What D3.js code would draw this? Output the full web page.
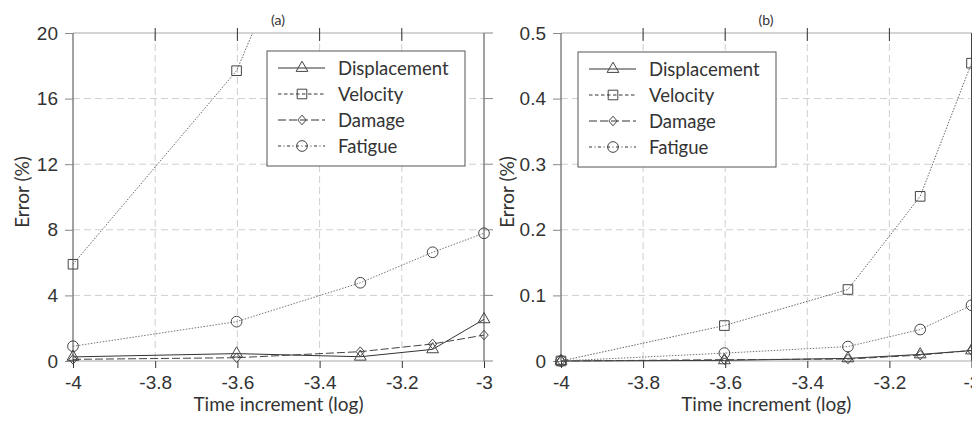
<!DOCTYPE html>
<html>
<head>
<meta charset="utf-8">
<script src="https://cdn.jsdelivr.net/npm/d3@7"></script>
<style>
  body { margin: 0; background: #fff; }
  svg { display: block; font-family: Lato, "Open Sans", sans-serif; }
  .tick-label { font-size: 19px; fill: #333; }
  .axis-label { font-size: 19px; fill: #333; }
  .legend-text { font-size: 18.5px; fill: #333; }
  .title { font-size: 14px; fill: #333; }
</style>
</head>
<body>
<svg width="972" height="421"></svg>
<script>
// time increments (log10 of 1e-4, 2.5e-4, 5e-4, 7.5e-4, 1e-3)
const timeLog = [-4, -3.602, -3.301, -3.125, -3];
const xTicks = [-4, -3.8, -3.6, -3.4, -3.2, -3];
const xTickLabels = ['-4', '-3.8', '-3.6', '-3.4', '-3.2', '-3'];

// panel (a)
const dispA = [0.25, 0.45, 0.26, 0.71, 2.54];
const veloA = [5.9, 17.7, 35.5, 60, 90];
const damA = [0.1, 0.2, 0.57, 1.04, 1.58];
const fatA = [0.9, 2.4, 4.77, 6.63, 7.79];
const yTicksA = [0, 4, 8, 12, 16, 20];
const yLabelsA = ['0', '4', '8', '12', '16', '20'];

// panel (b)
const dispB = [0, 0.001, 0.004, 0.01, 0.016];
const veloB = [0, 0.054, 0.109, 0.251, 0.454];
const damB = [0, 0.002, 0.003, 0.009, 0.016];
const fatB = [0, 0.012, 0.022, 0.048, 0.085];
const yTicksB = [0, 0.1, 0.2, 0.3, 0.4, 0.5];
const yLabelsB = ['0', '0.1', '0.2', '0.3', '0.4', '0.5'];

const seriesNames = ['Displacement', 'Velocity', 'Damage', 'Fatigue'];

const svg = d3.select('svg');

// line and marker style per series
const styles = {
  Displacement: { dash: null, legendDash: null, stroke: '#333', width: 1, marker: 'triangle' },
  Velocity: { dash: '1.5,1.5', legendDash: '3.5,2.5', stroke: '#555', width: 0.9, marker: 'square' },
  Damage: { dash: '8,3', legendDash: '8,3', stroke: '#444', width: 1, marker: 'diamond' },
  Fatigue: { dash: '1.5,1.5', legendDash: '3,2.5,1,2.5', stroke: '#666', width: 0.9, marker: 'circle' }
};

const markerPath = type => {
  if (type === 'triangle') return d3.symbol(d3.symbolTriangle, 60)();
  if (type === 'square') return 'M-4.8,-4.8H4.8V4.8H-4.8Z';
  if (type === 'diamond') return 'M0,-4.8L4.2,0L0,4.8L-4.2,0Z';
  return d3.symbol(d3.symbolCircle, 90)();
};

const drawMarker = (sel, type, x, y) => {
  sel.append('path')
    .attr('d', markerPath(type))
    .attr('transform', `translate(${x},${y})`)
    .attr('fill', 'none')
    .attr('stroke', '#444')
    .attr('stroke-width', 1);
};

const drawPanel = (cfg) => {
  const { left, right, top, bottom } = cfg;
  const g = svg.append('g');

  const xScale = d3.scaleLinear().domain([-4, -3]).range([left, right]);
  const yScale = d3.scaleLinear().domain(cfg.yDomain).range([bottom, top]);

  // grid
  g.append('g').selectAll('line').data(xTicks.slice(1, -1)).enter().append('line')
    .attr('x1', d => xScale(d)).attr('x2', d => xScale(d))
    .attr('y1', top).attr('y2', bottom)
    .attr('stroke', '#cfcfcf').attr('stroke-dasharray', '7,4');
  g.append('g').selectAll('line').data(cfg.yTicks.slice(1, -1)).enter().append('line')
    .attr('x1', left).attr('x2', right)
    .attr('y1', d => yScale(d)).attr('y2', d => yScale(d))
    .attr('stroke', '#cfcfcf').attr('stroke-dasharray', '7,4');

  // frame
  g.append('line').attr('x1', left).attr('x2', right).attr('y1', top).attr('y2', top)
    .attr('stroke', '#aaa');
  g.append('line').attr('x1', left).attr('x2', right).attr('y1', bottom).attr('y2', bottom)
    .attr('stroke', '#aaa');
  g.append('line').attr('x1', left).attr('x2', left).attr('y1', top).attr('y2', bottom)
    .attr('stroke', '#444');
  g.append('line').attr('x1', right).attr('x2', right).attr('y1', top).attr('y2', bottom)
    .attr('stroke', '#444');

  // ticks
  const xAxisB = d3.axisBottom(xScale).tickValues(xTicks).tickSize(7)
    .tickFormat((d, i) => xTickLabels[i]).tickPadding(8);
  const xg = g.append('g').attr('transform', `translate(0,${bottom})`).call(xAxisB);
  xg.select('.domain').remove();
  xg.selectAll('.tick line').attr('stroke', '#333');
  xg.selectAll('.tick text').attr('class', 'tick-label').attr('font-size', null)
    .attr('font-family', null);

  g.append('g').selectAll('line').data(xTicks.slice(1, -1)).enter().append('line')
    .attr('x1', d => xScale(d)).attr('x2', d => xScale(d))
    .attr('y1', top - 5).attr('y2', top + 8).attr('stroke', '#333');

  const yAxisL = d3.axisLeft(yScale).tickValues(cfg.yTicks).tickSize(8)
    .tickFormat((d, i) => cfg.yLabels[i]).tickPadding(7);
  const yg = g.append('g').attr('transform', `translate(${left},0)`).call(yAxisL);
  yg.select('.domain').remove();
  yg.selectAll('.tick line').attr('stroke', '#888');
  yg.selectAll('.tick text').attr('class', 'tick-label').attr('font-size', null)
    .attr('font-family', null);

  g.append('g').selectAll('line').data(cfg.yTicks).enter().append('line')
    .attr('x1', right).attr('x2', right + 9)
    .attr('y1', d => yScale(d)).attr('y2', d => yScale(d))
    .attr('stroke', '#888');

  // clip for lines above the top
  const clipId = 'clip-' + cfg.id;
  g.append('clipPath').attr('id', clipId).append('rect')
    .attr('x', left - 10).attr('y', top)
    .attr('width', right - left + 20).attr('height', bottom - top + 10);

  const plot = g.append('g').attr('clip-path', `url(#${clipId})`);
  const line = d3.line().x(d => xScale(d[0])).y(d => yScale(d[1]));

  seriesNames.forEach((name, si) => {
    const st = styles[name];
    const pts = timeLog.map((t, i) => [t, cfg.series[si][i]]);
    plot.append('path')
      .attr('d', line(pts))
      .attr('fill', 'none')
      .attr('stroke', st.stroke)
      .attr('stroke-width', st.width)
      .attr('stroke-dasharray', st.dash);
    const mg = plot.append('g');
    pts.forEach(p => drawMarker(mg, st.marker, xScale(p[0]), yScale(p[1])));
  });

  // legend
  const lg = g.append('g').attr('transform', `translate(${cfg.legend.x},${cfg.legend.y})`);
  lg.append('rect').attr('width', 198).attr('height', 115)
    .attr('fill', '#fff').attr('stroke', '#555').attr('stroke-width', 1);
  seriesNames.forEach((name, i) => {
    const st = styles[name];
    const cy = 17 + i * 26;
    lg.append('line').attr('x1', 11).attr('x2', 58).attr('y1', cy).attr('y2', cy)
      .attr('stroke', '#333').attr('stroke-width', 1)
      .attr('stroke-dasharray', st.legendDash);
    drawMarker(lg, st.marker, 35, cy);
    lg.append('text').attr('class', 'legend-text')
      .attr('x', 71).attr('y', cy + 6.5).text(name);
  });

  // labels
  g.append('text').attr('class', 'axis-label')
    .attr('x', (left + right) / 2).attr('y', 411)
    .attr('text-anchor', 'middle').text('Time increment (log)');
  g.append('text').attr('class', 'axis-label')
    .attr('transform', `translate(${cfg.yLabelX},192) rotate(-90)`)
    .attr('text-anchor', 'middle').text('Error (%)');
  g.append('text').attr('class', 'title')
    .attr('x', cfg.titleX).attr('y', 25)
    .attr('text-anchor', 'middle').text(cfg.title);
};

drawPanel({
  id: 'a', left: 73, right: 484, top: 33, bottom: 361,
  yDomain: [0, 20], yTicks: yTicksA, yLabels: yLabelsA,
  series: [dispA, veloA, damA, fatA],
  legend: { x: 267, y: 51 }, yLabelX: 29, titleX: 278, title: '(a)'
});

drawPanel({
  id: 'b', left: 561, right: 971.5, top: 33, bottom: 361,
  yDomain: [0, 0.5], yTicks: yTicksB, yLabels: yLabelsB,
  series: [dispB, veloB, damB, fatB],
  legend: { x: 578, y: 52 }, yLabelX: 514, titleX: 766, title: '(b)'
});
</script>
</body>
</html>
